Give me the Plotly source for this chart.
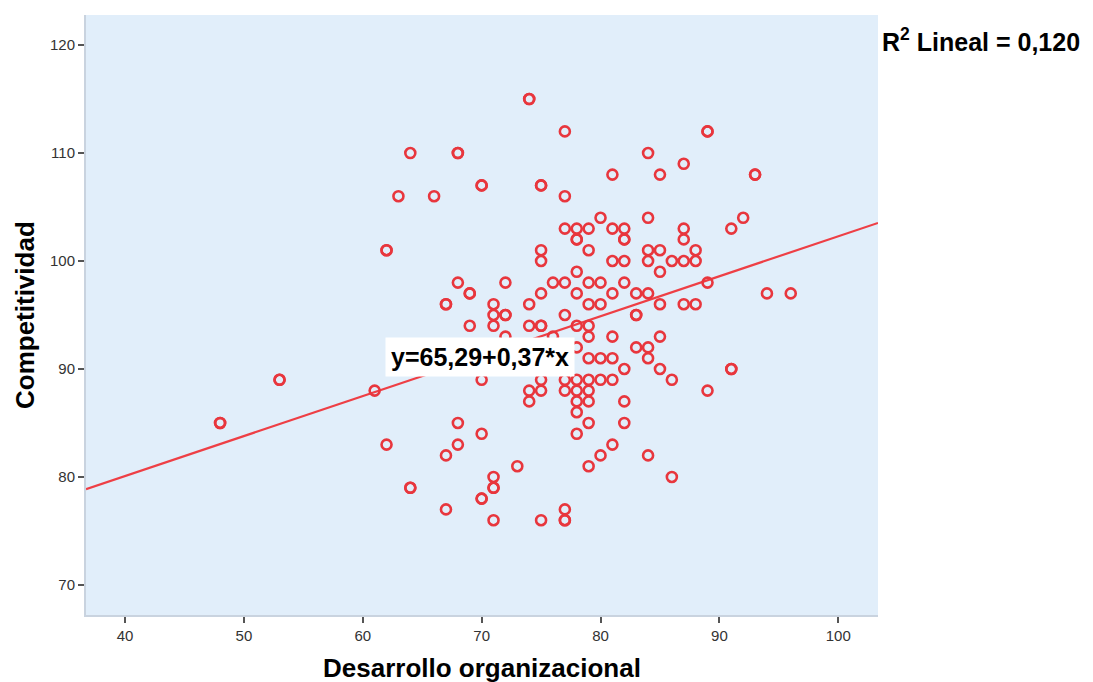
import plotly.graph_objects as go

# Desarrollo organizacional (x) and Competitividad (y)
desarrollo = [
    48, 48, 53, 53, 61, 62, 62, 62, 63, 64, 64, 64, 66,
    67, 67, 67, 67, 68, 68, 68, 68, 68, 69, 69, 69,
    70, 70, 70, 70, 70, 70, 71, 71, 71, 71, 71, 71, 71,
    72, 72, 72, 72, 73, 74, 74, 74, 74, 74, 74,
    75, 75, 75, 75, 75, 75, 75, 75, 75, 75, 76, 76,
    77, 77, 77, 77, 77, 77, 77, 77, 77, 77,
    78, 78, 78, 78, 78, 78, 78, 78, 78, 78, 78, 78,
    79, 79, 79, 79, 79, 79, 79, 79, 79, 79, 79, 79,
    80, 80, 80, 80, 80, 80,
    81, 81, 81, 81, 81, 81, 81, 81,
    82, 82, 82, 82, 82, 82, 82, 82,
    83, 83, 83, 83,
    84, 84, 84, 84, 84, 84, 84, 84,
    85, 85, 85, 85, 85, 85, 86, 86, 86,
    87, 87, 87, 87, 87, 88, 88, 88,
    89, 89, 89, 89, 91, 91, 91, 92, 93, 93, 94, 96,
]
competitividad = [
    85, 85, 89, 89, 88, 101, 101, 83, 106, 110, 79, 79, 106,
    96, 96, 82, 77, 110, 110, 98, 85, 83, 97, 97, 94,
    107, 107, 89, 84, 78, 78, 96, 95, 94, 80, 79, 79, 76,
    98, 95, 95, 93, 81, 115, 115, 96, 94, 88, 87,
    107, 107, 101, 100, 97, 94, 89, 88, 76, 94, 98, 93,
    112, 106, 103, 98, 95, 89, 88, 77, 76, 76,
    103, 102, 102, 99, 97, 94, 92, 89, 88, 87, 86, 84,
    103, 101, 98, 96, 94, 93, 91, 89, 88, 87, 85, 81,
    104, 98, 96, 91, 89, 82,
    108, 103, 100, 97, 93, 91, 89, 83,
    103, 102, 102, 100, 98, 90, 87, 85,
    97, 95, 95, 92,
    110, 104, 101, 100, 97, 92, 91, 82,
    108, 101, 99, 96, 93, 90, 100, 89, 80,
    109, 103, 102, 100, 96, 101, 100, 96,
    112, 112, 98, 88, 103, 90, 90, 104, 108, 108, 97, 97,
]

# Fit line as reported on the chart
intercepto = 65.29
pendiente = 0.37
r2_texto = "0,120"
ecuacion_texto = "y=65,29+0,37*x"

x_rango = [36.72, 103.34]
y_rango = [67.22, 122.78]
x_ticks = [40, 50, 60, 70, 80, 90, 100]
y_ticks = [70, 80, 90, 100, 110, 120]

rojo = "#E8363D"

fig = go.Figure()
fig.add_trace(go.Scatter(
    x=x_rango,
    y=[intercepto + pendiente * v for v in x_rango],
    mode="lines",
    line=dict(color="#EE3F45", width=2.2),
    hoverinfo="skip",
    showlegend=False,
))
fig.add_trace(go.Scatter(
    x=desarrollo, y=competitividad,
    mode="markers",
    marker=dict(symbol="circle-open", size=10, color=rojo, line=dict(width=2.6, color=rojo)),
    showlegend=False,
))

fig.update_layout(
    width=1077, height=674,
    margin=dict(l=78, r=207, t=7, b=67),
    paper_bgcolor="white",
    plot_bgcolor="#E1EEFA",
    font=dict(family="Arial, Liberation Sans, sans-serif", color="#333333"),
    showlegend=False,
)
axis_common = dict(
    showgrid=False, zeroline=False,
    showline=True, linecolor="#C9D3DF", linewidth=2,
    ticks="outside", ticklen=6, tickwidth=2, tickcolor="#555555",
    tickfont=dict(size=15, color="#333333", family="Arial, Liberation Sans, sans-serif"),
)
fig.update_xaxes(range=x_rango, tickvals=x_ticks, **axis_common)
fig.update_yaxes(range=y_rango, tickvals=y_ticks, **axis_common)

titulo_font = dict(size=26, color="black", family="Arial, Liberation Sans, sans-serif")
fig.add_annotation(
    text="<b>Desarrollo organizacional</b>", xref="paper", yref="paper",
    x=0.5, y=-0.088, xanchor="center", yanchor="middle", showarrow=False, font=titulo_font,
)
fig.add_annotation(
    text="<b>Competitividad</b>", xref="paper", yref="paper",
    x=-0.077, y=0.5, xanchor="center", yanchor="middle", textangle=-90,
    showarrow=False, font=titulo_font,
)
fig.add_annotation(
    text="<b>R<sup>2</sup> Lineal = " + r2_texto + "</b>", xref="paper", yref="paper",
    x=1.003, y=0.958, xanchor="left", yanchor="middle", showarrow=False,
    font=dict(size=25, color="black", family="Arial, Liberation Sans, sans-serif"),
)
fig.add_annotation(
    text="<b>" + ecuacion_texto + "</b>", xref="x", yref="y",
    x=69.87, y=91.15, xanchor="center", yanchor="middle", showarrow=False,
    bgcolor="white", borderpad=5,
    font=dict(size=25, color="black", family="Arial, Liberation Sans, sans-serif"),
)

fig.write_html("out.html")
